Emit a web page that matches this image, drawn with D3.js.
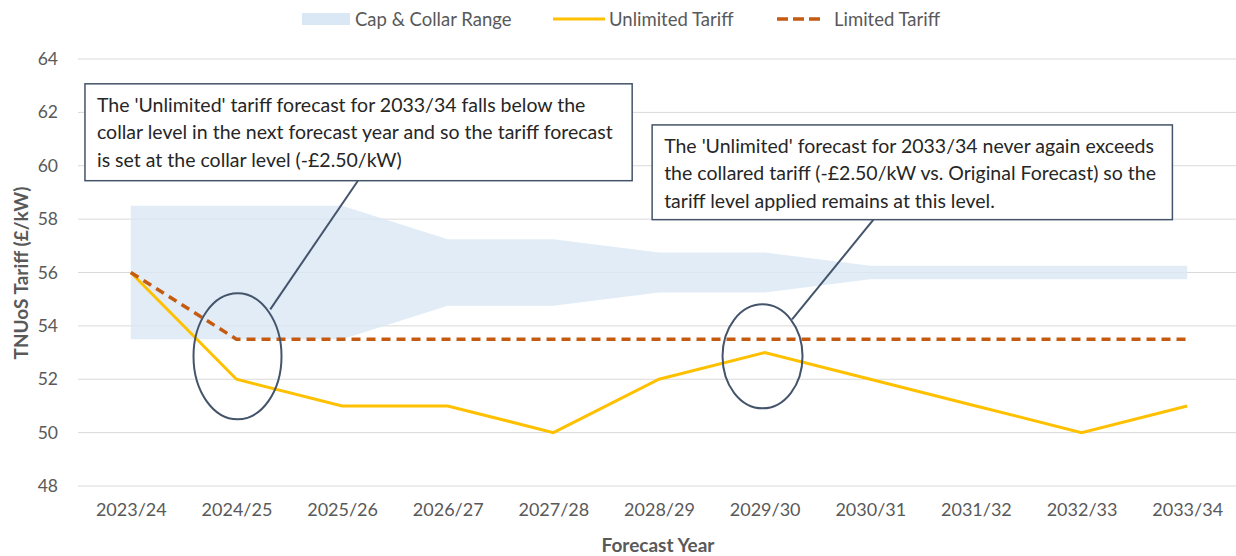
<!DOCTYPE html>
<html>
<head>
<meta charset="utf-8">
<script src="https://cdn.jsdelivr.net/npm/d3@7"></script>
<style>
  body { margin: 0; background: #fff; }
  text { font-family: Lato, "Open Sans", sans-serif; }
</style>
</head>
<body>
<div id="chart"></div>
<script>
// chart data
var years = ["2023/24", "2024/25", "2025/26", "2026/27", "2027/28", "2028/29",
             "2029/30", "2030/31", "2031/32", "2032/33", "2033/34"];
var capUpper = [58.5, 58.5, 58.5, 57.25, 57.25, 56.75, 56.75, 56.25, 56.25, 56.25, 56.25];
var collarLower = [53.5, 53.5, 53.5, 54.75, 54.75, 55.25, 55.25, 55.75, 55.75, 55.75, 55.75];
var unlimited = [56, 52, 51, 51, 50, 52, 53, 52, 51, 50, 51];
var limited = [56, 53.5, 53.5, 53.5, 53.5, 53.5, 53.5, 53.5, 53.5, 53.5, 53.5];
var yTicks = [48, 50, 52, 54, 56, 58, 60, 62, 64];

var note1 = ["The 'Unlimited' tariff forecast for 2033/34 falls below the",
             "collar level in the next forecast year and so the tariff forecast",
             "is set at the collar level (-£2.50/kW)"];
var note2 = ["The 'Unlimited' forecast for 2033/34 never again exceeds",
             "the collared tariff (-£2.50/kW vs. Original Forecast) so the",
             "tariff level applied remains at this level."];

var svgWidth = 1236;
var svgHeight = 556;

var svg = d3.select("#chart")
    .append("svg")
    .attr("width", svgWidth)
    .attr("height", svgHeight);

var xScale = d3.scalePoint().domain(d3.range(years.length)).range([78, 1240]).padding(0.5);
var yScale = d3.scaleLinear().domain([48, 64]).range([486, 59]);

// index -> x (allows fractional positions for annotations)
function xi(i) {
    return xScale(0) + i * xScale.step();
}

// gridlines
svg.append("g")
    .selectAll("line")
    .data(yTicks)
    .enter()
    .append("line")
    .attr("x1", 78)
    .attr("x2", 1236)
    .attr("y1", d => yScale(d))
    .attr("y2", d => yScale(d))
    .attr("stroke", "#d9d9d9")
    .attr("stroke-width", 1);

// cap & collar band
var area = d3.area()
    .x((d, i) => xScale(i))
    .y0((d, i) => yScale(collarLower[i]))
    .y1(d => yScale(d));

svg.append("path")
    .datum(capUpper)
    .attr("d", area)
    .attr("fill", "#dae7f5")
    .attr("fill-opacity", 0.8);

// y axis labels
var yAxis = d3.axisLeft(yScale).tickValues(yTicks).tickSize(0).tickPadding(0);
var yG = svg.append("g")
    .attr("transform", "translate(58,0)")
    .call(yAxis);
yG.select(".domain").remove();
yG.selectAll("text")
    .attr("font-size", "17.5px")
    .attr("fill", "#595959")
    .attr("font-family", "Lato, sans-serif");

// x axis labels
var xAxis = d3.axisBottom(xScale).tickFormat(i => years[i]).tickSize(0).tickPadding(0);
var xG = svg.append("g")
    .attr("transform", "translate(0,503)")
    .call(xAxis);
xG.select(".domain").remove();
xG.selectAll("text")
    .attr("font-size", "18px")
    .attr("fill", "#595959")
    .attr("font-family", "Lato, sans-serif");

// lines
var line = d3.line()
    .x((d, i) => xScale(i))
    .y(d => yScale(d));

svg.append("path")
    .datum(unlimited)
    .attr("d", line)
    .attr("fill", "none")
    .attr("stroke", "#ffc000")
    .attr("stroke-width", 3);

svg.append("path")
    .datum(limited)
    .attr("d", line)
    .attr("fill", "none")
    .attr("stroke", "#c55a11")
    .attr("stroke-width", 3.5)
    .attr("stroke-dasharray", "9,6");

// annotations: ellipses and callout lines
var calloutColor = "#44546a";

svg.append("ellipse")
    .attr("cx", xi(1.01))
    .attr("cy", yScale(52.86))
    .attr("rx", 44)
    .attr("ry", 63)
    .attr("fill", "none")
    .attr("stroke", calloutColor)
    .attr("stroke-width", 2);

svg.append("ellipse")
    .attr("cx", xi(5.98))
    .attr("cy", yScale(52.86))
    .attr("rx", 40)
    .attr("ry", 52)
    .attr("fill", "none")
    .attr("stroke", calloutColor)
    .attr("stroke-width", 2);

svg.append("line")
    .attr("x1", xi(1.32)).attr("y1", yScale(54.62))
    .attr("x2", xi(2.15)).attr("y2", yScale(59.44))
    .attr("stroke", calloutColor)
    .attr("stroke-width", 2);

svg.append("line")
    .attr("x1", xi(6.26)).attr("y1", yScale(54.24))
    .attr("x2", xi(7.03)).attr("y2", yScale(57.98))
    .attr("stroke", calloutColor)
    .attr("stroke-width", 2);

// annotation boxes
function noteBox(lines, i0, i1, vTop, vBottom) {
    var x0 = xi(i0), x1 = xi(i1);
    var y0 = yScale(vTop), y1 = yScale(vBottom);
    var g = svg.append("g");
    g.append("rect")
        .attr("x", x0)
        .attr("y", y0)
        .attr("width", x1 - x0)
        .attr("height", y1 - y0)
        .attr("fill", "#fff")
        .attr("stroke", calloutColor)
        .attr("stroke-width", 1.5);
    g.selectAll("text")
        .data(lines)
        .enter()
        .append("text")
        .attr("x", x0 + 12)
        .attr("y", (d, i) => y0 + 28 + i * 27.5)
        .attr("font-size", "19.5px")
        .attr("fill", "#262626")
        .text(d => d);
}

noteBox(note1, -0.434, 4.746, 63.07, 59.44);
noteBox(note2, 4.935, 9.86, 61.53, 57.98);

// legend
var legend = svg.append("g");
legend.append("rect")
    .attr("x", 302).attr("y", 13)
    .attr("width", 48).attr("height", 12)
    .attr("fill", "#dae7f5");
legend.append("text")
    .attr("x", 355).attr("y", 26)
    .attr("font-size", "18.5px").attr("fill", "#595959")
    .text("Cap & Collar Range");

legend.append("line")
    .attr("x1", 553).attr("x2", 605)
    .attr("y1", 19).attr("y2", 19)
    .attr("stroke", "#ffc000").attr("stroke-width", 3);
legend.append("text")
    .attr("x", 609).attr("y", 26)
    .attr("font-size", "18.5px").attr("fill", "#595959")
    .text("Unlimited Tariff");

legend.append("line")
    .attr("x1", 777).attr("x2", 825)
    .attr("y1", 19).attr("y2", 19)
    .attr("stroke", "#c55a11").attr("stroke-width", 3.5)
    .attr("stroke-dasharray", "11,5");
legend.append("text")
    .attr("x", 834).attr("y", 26)
    .attr("font-size", "18.5px").attr("fill", "#595959")
    .text("Limited Tariff");

// axis titles
svg.append("text")
    .attr("x", 658).attr("y", 552)
    .attr("text-anchor", "middle")
    .attr("font-size", "19px")
    .attr("font-weight", "bold")
    .attr("fill", "#595959")
    .text("Forecast Year");

svg.append("text")
    .attr("transform", "translate(28,273) rotate(-90)")
    .attr("text-anchor", "middle")
    .attr("font-size", "19px")
    .attr("font-weight", "bold")
    .attr("fill", "#595959")
    .text("TNUoS Tariff (£/kW)");
</script>
</body>
</html>
